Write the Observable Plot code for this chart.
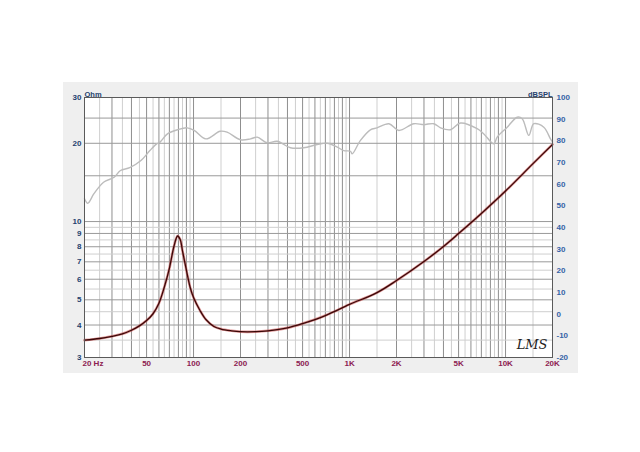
<!DOCTYPE html>
<html><head><meta charset="utf-8">
<script src="https://cdn.jsdelivr.net/npm/d3@7"></script>
<script src="https://cdn.jsdelivr.net/npm/@observablehq/plot@0.6"></script>
<style>
body{margin:0;background:#fff;}
#wrap{position:relative;width:640px;height:452px;overflow:hidden;}
#panel{position:absolute;left:63px;top:82px;width:515px;height:291px;background:#efefef;}
#chart{position:absolute;left:0;top:0;}
</style></head><body>
<div id="wrap"><div id="panel"></div><div id="chart"></div></div>
<script>
// Impedance (Ohm)
const impFreq = [20,25,30,35,40,45,50,55,60,65,70,75,79,82,85,90,95,100,110,120,135,150,175,200,250,300,400,500,700,1000,1500,2000,3000,4000,5000,7000,10000,15000,20000];
const impOhm  = [3.50,3.55,3.62,3.70,3.82,3.97,4.16,4.42,4.85,5.6,6.6,8.05,8.8,8.55,7.7,6.5,5.6,5.1,4.55,4.2,3.95,3.86,3.80,3.77,3.77,3.80,3.90,4.05,4.35,4.8,5.33,5.93,7.02,8.02,8.99,10.74,13.1,16.7,19.8];
// SPL (dB)
const splFreq = [20,21,23,26.5,31,34,39,46,52.5,58,61,68,79,91,101,120,148,164,200,232,256,296,344,418,509,620,719,834,919,1014,1040,1175,1360,1500,1790,2070,2580,2990,3470,3830,4440,5140,6580,7260,8410,8840,10250,11880,12790,14100,15180,17590,19410,20000];
const splDb   = [53.3,51.2,55.6,60.9,63.2,66.3,67.6,70.9,75.5,78.6,79.4,83.2,85.1,86.0,84.8,80.9,84.4,84.0,80.5,80.9,81.7,79.1,79.8,76.8,76.8,78.3,78.9,77.1,75.5,75.2,74.0,80.2,85.1,86.0,87.9,84.8,87.9,87.5,87.9,86.0,85.1,88.2,85.6,83.2,78.6,81.7,86.3,90.9,90.2,82.5,87.9,86.3,80.9,79.5];
// Tick labels
const xTicks = [20,50,100,200,500,1000,2000,5000,10000,20000];
const xTickLabels = ["20 Hz","50","100","200","500","1K","2K","5K","10K","20K"];
const ohmTicks = [3,4,5,6,7,8,9,10,20,30];
const dbTicks = [-20,-10,0,10,20,30,40,50,60,70,80,90,100];

// dB axis (-20..100) shares the log Ohm scale (3..30)
const dbToOhm = d => 3 * Math.pow(10, (d + 20) / 120);

// grid positions
const xMajor = [], xMinor = [];
for (const p of [10,100,1000,10000]) for (let n = 1; n <= 9; n++) {
  const v = n * p, h = (n + 0.5) * p;
  if (v >= 20 && v <= 20000) xMajor.push(v);
  if (h >= 20 && h < 20000) xMinor.push(h);
}
const yMajor = [3,4,5,6,7,8,9,10,15,20,25,30];
const yMinor = [3.5,4.5,5.5,6.5,7.5,8.5,9.5];

const imp = impFreq.map((f,i)=>({f, v: impOhm[i]}));
const spl = splFreq.map((f,i)=>({f, v: dbToOhm(splDb[i])}));

const font = "'Liberation Sans', Arial, sans-serif";
const chart = Plot.plot({
  width: 640, height: 452,
  marginLeft: 84, marginRight: 88, marginTop: 97, marginBottom: 95,
  style: {background: "transparent", fontFamily: font},
  x: {type: "log", domain: [20, 20000], axis: null},
  y: {type: "log", domain: [3, 30], axis: null},
  marks: [
    Plot.frame({fill: "white"}),
    Plot.ruleX(xMinor, {stroke: "#cfcfcf", strokeWidth: 1}),
    Plot.ruleX(xMajor, {stroke: "#8f8f8f", strokeWidth: 1}),
    Plot.ruleY(yMinor, {stroke: "#cfcfcf", strokeWidth: 1}),
    Plot.ruleY(yMajor, {stroke: "#9a9a9a", strokeWidth: 1}),
    Plot.line(spl, {x: "f", y: "v", stroke: "#bcbcbc", strokeWidth: 1.4, curve: "catmull-rom"}),
    Plot.line(imp, {x: "f", y: "v", stroke: "#c84040", strokeWidth: 2.6, strokeOpacity: 0.55, curve: "catmull-rom"}),
    Plot.line(imp, {x: "f", y: "v", stroke: "#3a0808", strokeWidth: 1.3, curve: "catmull-rom"}),
    Plot.frame({stroke: "#5a5a5a", strokeWidth: 1}),
    // left axis labels
    Plot.text(ohmTicks, {y: d => d, frameAnchor: "left", textAnchor: "end", dx: -3, text: d => String(d),
      fill: "#243f6e", fontSize: 8, fontWeight: "bold"}),
    // right axis labels
    Plot.text(dbTicks, {y: d => dbToOhm(d), frameAnchor: "right", textAnchor: "start", dx: 4, text: d => String(d),
      fill: "#3563a6", fontSize: 8, fontWeight: "bold"}),
    // bottom labels
    Plot.text(xTicks.slice(1), {x: d => d, frameAnchor: "bottom", dy: 6, lineAnchor: "middle", text: (d,i) => xTickLabels[i+1],
      fill: "#8c2050", fontSize: 8, fontWeight: "bold"}),
    Plot.text(xTicks.slice(0,1), {x: d => d, frameAnchor: "bottom", dy: 6, dx: -2, lineAnchor: "middle", textAnchor: "start", text: () => xTickLabels[0],
      fill: "#8c2050", fontSize: 8, fontWeight: "bold"}),
    // axis titles
    Plot.text(["Ohm"], {frameAnchor: "top-left", dy: -6, textAnchor: "start", text: d => d, fill: "#243f6e", fontSize: 7.5, fontWeight: "bold"}),
    Plot.text(["dBSPL"], {frameAnchor: "top-right", dy: -6, textAnchor: "end", text: d => d, fill: "#243f6e", fontSize: 7.5, fontWeight: "bold"}),
    Plot.text(["LMS"], {frameAnchor: "bottom-right", dx: -5, dy: -9, textAnchor: "end", text: d => d, fill: "#222",
      fontSize: 13, fontStyle: "italic", fontFamily: "'DejaVu Serif', serif"})
  ]
});
document.getElementById("chart").appendChild(chart);
</script>
</body></html>
